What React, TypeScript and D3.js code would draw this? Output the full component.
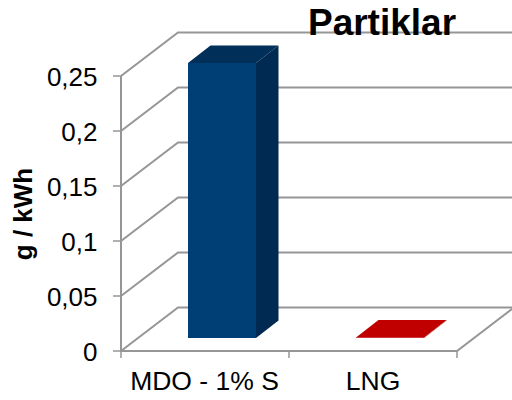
import React from "react";
import * as d3 from "d3";

const categories = ["MDO - 1% S", "LNG"];
const values = [0.25, 0.0005];
const barColors = [
  { front: "#003F75", side: "#002A52", top: "#002F5A" },
  { front: "#C00000", side: "#A00000", top: "#C00000" },
];
const yTicks = [0, 0.05, 0.1, 0.15, 0.2, 0.25];
const yTickLabels = ["0", "0,05", "0,1", "0,15", "0,2", "0,25"];

const y = d3.scaleLinear().domain([0, 0.25]).range([351, 76]);
const x = d3.scaleBand<number>().domain([0, 1]).range([121, 457]);
const depthX = 57;
const depthY = -43.5;
const grid = "#969696";

export default function App() {
  return (
    <svg
      width={512}
      height={400}
      style={{ position: "absolute", left: 0, top: 0, fontFamily: "Liberation Sans" }}
    >
      <rect width={512} height={400} fill="#fff" />
      {yTicks.map((t) => (
        <path
          key={t}
          d={`M${x.range()[0]},${y(t)}L${x.range()[0] + depthX},${y(t) + depthY}H514`}
          fill="none"
          stroke={grid}
          strokeWidth={2}
        />
      ))}
      <path d={`M121,${y(0.25)}V${y(0)}H457L514,${y(0) + depthY}`} fill="none" stroke={grid} strokeWidth={2} />
      {yTicks.map((t, i) => (
        <g key={t}>
          <line x1={113} x2={121} y1={y(t)} y2={y(t)} stroke={grid} strokeWidth={1.5} />
          <text x={97.5} y={y(t) + 10} textAnchor="end" fontSize={26}>{yTickLabels[i]}</text>
        </g>
      ))}
      {[0, 1, 2].map((i) => {
        const px = 121 + i * x.bandwidth();
        return <line key={i} x1={px} x2={px} y1={351} y2={358} stroke={grid} strokeWidth={1.5} />;
      })}
      {categories.map((c, i) => {
        const x0 = (x(i) as number) + 67;
        const x1 = x0 + 68;
        const base = 338;
        const topY = base - (y(0) - y(values[i]));
        const dx = 22.5;
        const dy = -17.5;
        const col = barColors[i];
        return (
          <g key={c}>
            <polygon points={`${x1},${topY} ${x1 + dx},${topY + dy} ${x1 + dx},${base + dy} ${x1},${base}`} fill={col.side} />
            <polygon points={`${x0},${topY} ${x0 + dx},${topY + dy} ${x1 + dx},${topY + dy} ${x1},${topY}`} fill={col.top} />
            <rect x={x0} y={topY} width={x1 - x0} height={base - topY} fill={col.front} />
          </g>
        );
      })}
      {categories.map((c, i) => (
        <text
          key={c}
          x={[204.5, 373][i]}
          y={390}
          textAnchor="middle"
          fontSize={26.5}
        >
          {c}
        </text>
      ))}
      <text x={382} y={35} textAnchor="middle" fontSize={37} fontWeight="bold">Partiklar</text>
      <text
        transform="translate(32,214) rotate(-90)"
        textAnchor="middle"
        fontSize={26}
        fontWeight="bold"
      >
        g / kWh
      </text>
    </svg>
  );
}
